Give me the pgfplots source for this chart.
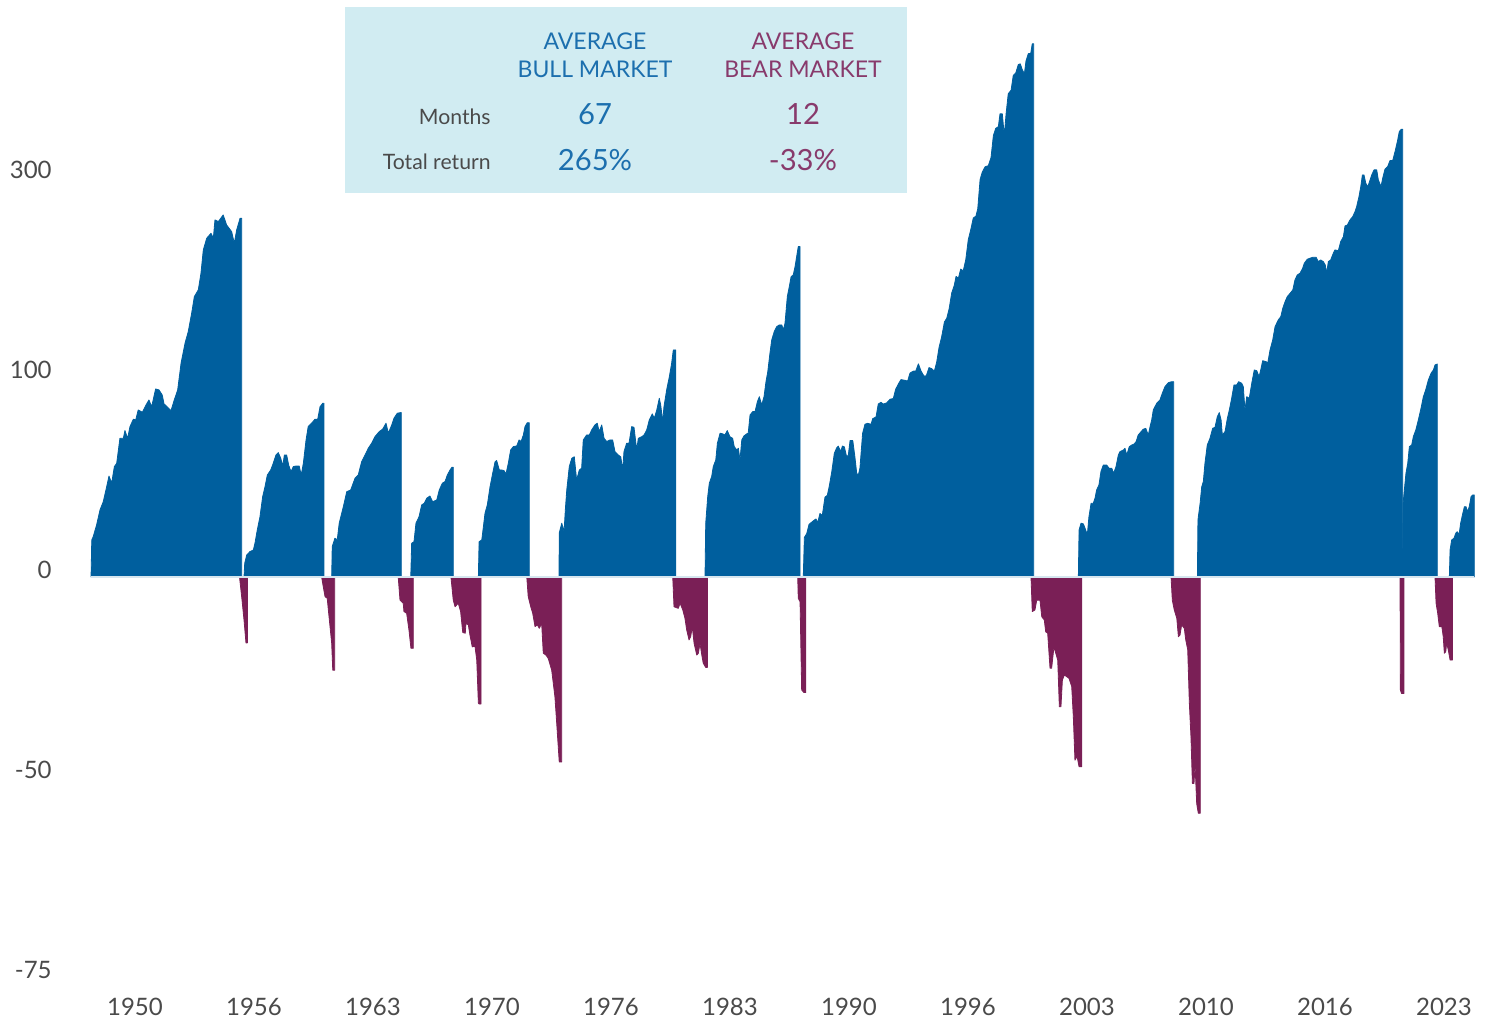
\documentclass[border=0pt]{standalone}
\usepackage{fontspec}
\setmainfont{Lato}
\usepackage{pgfplots}
\pgfplotsset{compat=1.18}
\definecolor{bull}{HTML}{005F9E}
\definecolor{bear}{HTML}{7A1F56}
\definecolor{boxbg}{HTML}{D1ECF2}
\definecolor{bulltxt}{HTML}{1C6FAE}
\definecolor{beartxt}{HTML}{883A6C}
\definecolor{lbl}{HTML}{4A4A4A}
\definecolor{zeroline}{HTML}{D6E6EF}
\begin{document}
\begin{tikzpicture}
\useasboundingbox (-44pt,-16pt) rectangle (700.5pt,495pt);
\begin{axis}[
  scale only axis, width=696pt, height=494pt,
  xmin=1947.38, xmax=2025.01, ymin=-2.065, ymax=2.875,
  y filter/.expression={ln(1+y/100)/ln(2)},
  axis line style={draw=none}, tick style={draw=none}, major tick length=0pt,
  /pgf/number format/assume math mode=true,
  xtick={1950,1956.636,1963.273,1969.909,1976.545,1983.182,1989.818,1996.455,2003.091,2009.727,2016.364,2023},
  xticklabels={1950,1956,1963,1970,1976,1983,1990,1996,2003,2010,2016,2023},
  ytick={-2,-1,0,1,2},
  yticklabels={-75,-50,0,100,300},
  xticklabel style={font=\fontsize{12}{13}\selectfont, text=lbl, anchor=base, inner sep=0pt, yshift=-13pt},
  yticklabel style={font=\fontsize{12}{13}\selectfont, text=lbl, anchor=base east, inner sep=0pt, xshift=-18pt, yshift=-1pt},
  clip=false,
  every axis plot/.append style={line width=0.4pt, line join=round},
]
% ---------- bear markets ----------
\addplot[fill=bear, draw=bear] coordinates {(1955.83,0) (1955.97,-7.7) (1956.08,-13.8) (1956.19,-20.4) (1956.27,-20.4)} \closedcycle;
\addplot[fill=bear, draw=bear] coordinates {(1960.41,0) (1960.50,-3.3) (1960.60,-6.6) (1960.72,-7.1) (1960.84,-13.8) (1960.97,-20.5) (1961.03,-27.6) (1961.14,-27.6)} \closedcycle;
\addplot[fill=bear, draw=bear] coordinates {(1964.68,0) (1964.78,-7.7) (1964.96,-8.7) (1965.00,-11.3) (1965.15,-11.8) (1965.28,-16.8) (1965.39,-21.9) (1965.52,-21.9)} \closedcycle;
\addplot[fill=bear, draw=bear] coordinates {(1967.62,0) (1967.75,-7.7) (1967.85,-9.8) (1968.03,-8.7) (1968.16,-11.3) (1968.28,-17.5) (1968.42,-17.7) (1968.46,-14.8) (1968.59,-15.3) (1968.68,-18.2) (1968.81,-21.5) (1968.96,-21.3) (1969.06,-25.0) (1969.15,-35.4) (1969.20,-35.6) (1969.30,-35.6)} \closedcycle;
\addplot[fill=bear, draw=bear] coordinates {(1971.85,0) (1971.93,-6.6) (1972.07,-9.8) (1972.18,-11.8) (1972.31,-15.8) (1972.44,-15.3) (1972.55,-16.3) (1972.68,-14.8) (1972.77,-23.2) (1972.92,-23.7) (1973.05,-24.6) (1973.24,-27.6) (1973.42,-34.0) (1973.52,-39.8) (1973.66,-47.3) (1973.80,-47.3)} \closedcycle;
\addplot[fill=bear, draw=bear] coordinates {(1979.99,0) (1980.06,-9.8) (1980.30,-10.3) (1980.40,-8.7) (1980.55,-10.8) (1980.67,-13.3) (1980.77,-16.8) (1980.90,-19.6) (1980.99,-18.7) (1981.08,-15.8) (1981.18,-20.5) (1981.33,-23.7) (1981.42,-23.2) (1981.51,-20.5) (1981.61,-23.7) (1981.69,-25.8) (1981.83,-26.9) (1981.92,-26.9)} \closedcycle;
\addplot[fill=bear, draw=bear] coordinates {(1986.96,0) (1986.99,-7.1) (1987.09,-8.2) (1987.18,-32.4) (1987.31,-33.0) (1987.41,-33.0)} \closedcycle;
\addplot[fill=bear, draw=bear] coordinates {(1999.97,0) (2000.04,-11.3) (2000.19,-10.8) (2000.29,-7.7) (2000.47,-7.7) (2000.57,-12.9) (2000.71,-13.8) (2000.79,-17.3) (2000.90,-17.7) (2001.03,-27.1) (2001.12,-27.1) (2001.25,-21.5) (2001.35,-23.2) (2001.46,-25.0) (2001.55,-36.2) (2001.64,-36.2) (2001.72,-30.0) (2001.83,-28.8) (2001.96,-29.2) (2002.09,-29.6) (2002.24,-31.6) (2002.33,-38.4) (2002.42,-47.0) (2002.54,-46.3) (2002.65,-48.2) (2002.80,-48.2)} \closedcycle;
\addplot[fill=bear, draw=bear] coordinates {(2007.78,0) (2007.85,-7.7) (2007.96,-10.8) (2008.10,-13.3) (2008.19,-18.7) (2008.28,-18.2) (2008.37,-15.3) (2008.52,-16.3) (2008.60,-19.6) (2008.71,-22.3) (2008.80,-35.4) (2008.89,-42.5) (2008.97,-51.1) (2009.06,-51.1) (2009.12,-47.9) (2009.21,-54.4) (2009.30,-55.9) (2009.41,-55.9)} \closedcycle;
\addplot[fill=bear, draw=bear] coordinates {(2020.55,0) (2020.57,-32.4) (2020.63,-33.2) (2020.77,-33.2)} \closedcycle;
\addplot[fill=bear, draw=bear] coordinates {(2022.50,0) (2022.56,-8.7) (2022.65,-11.8) (2022.74,-15.8) (2022.88,-15.8) (2022.96,-18.7) (2023.02,-23.2) (2023.10,-22.8) (2023.15,-20.5) (2023.24,-22.3) (2023.34,-25.0) (2023.47,-25.0)} \closedcycle;
% ---------- bull markets ----------
\addplot[fill=bull, draw=bull] coordinates {(1947.55,0) (1947.59,13.7) (1947.67,15.0) (1947.86,19.8) (1948.05,26.2) (1948.23,29.8) (1948.42,36.7) (1948.55,41.9) (1948.70,38.5) (1948.85,46.6) (1948.98,48.3) (1949.16,61.7) (1949.35,61.7) (1949.44,66.1) (1949.59,61.7) (1949.72,68.4) (1949.91,72.8) (1950.04,72.3) (1950.18,78.4) (1950.41,77.0) (1950.65,82.2) (1950.78,84.7) (1950.93,80.4) (1951.15,91.9) (1951.34,91.2) (1951.52,87.9) (1951.62,82.2) (1951.82,80.1) (1952.01,78.0) (1952.19,84.7) (1952.38,91.2) (1952.57,109.8) (1952.79,124.8) (1952.97,134.0) (1953.16,149.4) (1953.31,164.2) (1953.53,170.4) (1953.68,186.5) (1953.81,210.6) (1954.00,223.5) (1954.24,229.1) (1954.37,223.5) (1954.46,244.7) (1954.65,242.7) (1954.92,250.7) (1955.11,238.7) (1955.39,231.0) (1955.54,217.9) (1955.67,232.9) (1955.86,246.7) (1955.95,246.7)} \closedcycle;
\addplot[fill=bull, draw=bull] coordinates {(1956.08,0) (1956.12,4.9) (1956.23,7.9) (1956.41,9.2) (1956.60,9.8) (1956.69,12.4) (1956.82,17.7) (1956.97,23.2) (1957.12,32.1) (1957.25,36.7) (1957.38,42.4) (1957.57,44.9) (1957.71,48.3) (1957.86,52.6) (1957.99,53.9) (1958.13,50.9) (1958.24,46.9) (1958.33,52.6) (1958.46,52.6) (1958.57,47.4) (1958.70,44.1) (1958.83,46.6) (1958.98,46.9) (1959.16,46.9) (1959.27,42.4) (1959.39,48.3) (1959.54,60.8) (1959.66,68.4) (1959.85,70.4) (1960.04,72.8) (1960.19,72.8) (1960.32,80.4) (1960.47,82.6) (1960.54,82.6)} \closedcycle;
\addplot[fill=bull, draw=bull] coordinates {(1960.97,0) (1961.00,11.1) (1961.15,14.4) (1961.28,13.7) (1961.39,20.5) (1961.62,27.6) (1961.81,34.4) (1962.03,35.2) (1962.27,40.8) (1962.45,42.4) (1962.64,49.1) (1962.83,52.6) (1963.01,56.2) (1963.20,59.0) (1963.38,62.6) (1963.62,65.5) (1963.81,66.9) (1964.00,70.4) (1964.13,64.6) (1964.32,69.4) (1964.44,73.3) (1964.63,76.4) (1964.82,76.8) (1964.85,76.8)} \closedcycle;
\addplot[fill=bull, draw=bull] coordinates {(1965.38,0) (1965.43,12.4) (1965.56,13.0) (1965.67,20.5) (1965.84,23.2) (1965.99,28.4) (1966.13,29.1) (1966.27,31.4) (1966.45,32.4) (1966.60,29.8) (1966.83,30.6) (1966.97,35.2) (1967.14,38.4) (1967.29,39.2) (1967.42,42.4) (1967.57,44.9) (1967.68,46.3) (1967.75,46.3)} \closedcycle;
\addplot[fill=bull, draw=bull] coordinates {(1969.15,0) (1969.19,13.0) (1969.34,13.7) (1969.42,18.4) (1969.52,24.7) (1969.65,28.4) (1969.80,36.7) (1969.95,43.3) (1970.08,49.1) (1970.17,49.7) (1970.32,44.9) (1970.45,44.9) (1970.58,44.6) (1970.69,42.9) (1970.82,48.3) (1970.95,55.3) (1971.10,57.1) (1971.29,57.5) (1971.42,60.8) (1971.53,59.9) (1971.66,63.6) (1971.75,68.4) (1971.88,70.7) (1971.99,70.7)} \closedcycle;
\addplot[fill=bull, draw=bull] coordinates {(1973.65,0) (1973.66,16.4) (1973.80,20.5) (1973.93,17.0) (1974.00,26.2) (1974.08,35.2) (1974.22,46.6) (1974.36,50.9) (1974.50,51.7) (1974.63,40.0) (1974.78,44.9) (1974.91,45.8) (1975.00,60.8) (1975.19,63.6) (1975.34,63.6) (1975.47,66.5) (1975.65,69.4) (1975.78,70.4) (1975.89,65.5) (1976.03,69.4) (1976.16,61.7) (1976.31,59.9) (1976.49,60.8) (1976.64,60.8) (1976.77,54.4) (1976.95,52.6) (1977.09,51.7) (1977.20,44.9) (1977.27,54.4) (1977.42,59.0) (1977.55,59.0) (1977.70,68.4) (1977.83,68.0) (1977.98,55.3) (1978.07,61.7) (1978.26,62.6) (1978.39,63.6) (1978.54,66.5) (1978.68,72.3) (1978.85,76.0) (1978.96,73.3) (1979.10,78.4) (1979.24,85.8) (1979.32,81.5) (1979.43,71.3) (1979.50,80.4) (1979.65,91.2) (1979.80,100.2) (1979.93,109.8) (1980.02,119.6) (1980.16,119.6)} \closedcycle;
\addplot[fill=bull, draw=bull] coordinates {(1981.79,0) (1981.83,20.5) (1981.94,32.1) (1982.03,38.4) (1982.16,41.6) (1982.25,46.6) (1982.39,50.0) (1982.48,59.0) (1982.63,64.6) (1982.78,64.2) (1982.90,63.6) (1983.03,66.1) (1983.18,62.6) (1983.33,61.7) (1983.42,57.1) (1983.56,55.3) (1983.65,56.2) (1983.74,50.0) (1983.84,60.8) (1983.96,63.0) (1984.11,64.2) (1984.20,64.6) (1984.30,75.3) (1984.45,77.4) (1984.58,77.4) (1984.71,83.6) (1984.82,86.8) (1984.95,81.5) (1985.08,86.8) (1985.19,96.8) (1985.29,103.7) (1985.41,117.1) (1985.51,127.4) (1985.65,134.0) (1985.79,138.1) (1985.93,139.5) (1986.07,139.5) (1986.16,135.4) (1986.25,140.9) (1986.38,164.2) (1986.49,173.5) (1986.59,183.1) (1986.71,184.8) (1986.81,193.1) (1986.90,203.5) (1986.99,214.2) (1987.09,214.2)} \closedcycle;
\addplot[fill=bull, draw=bull] coordinates {(1987.27,0) (1987.33,14.7) (1987.46,16.2) (1987.59,20.0) (1987.83,21.5) (1987.98,22.3) (1988.07,20.7) (1988.20,24.6) (1988.33,23.8) (1988.48,31.9) (1988.61,32.7) (1988.72,37.0) (1988.86,44.1) (1989.00,53.5) (1989.13,56.4) (1989.22,57.4) (1989.36,54.5) (1989.45,57.4) (1989.56,57.0) (1989.69,51.6) (1989.78,52.5) (1989.88,60.5) (1990.03,60.5) (1990.15,51.6) (1990.25,43.2) (1990.34,42.3) (1990.43,45.9) (1990.58,64.6) (1990.71,69.8) (1990.86,70.3) (1991.05,69.8) (1991.14,73.1) (1991.33,74.2) (1991.45,82.1) (1991.60,83.2) (1991.73,82.1) (1991.92,82.8) (1992.11,85.2) (1992.29,85.6) (1992.42,91.6) (1992.57,95.2) (1992.72,98.2) (1992.94,97.7) (1993.09,97.2) (1993.22,102.7) (1993.41,104.1) (1993.54,104.1) (1993.69,109.3) (1993.84,104.1) (1993.96,101.5) (1994.06,100.2) (1994.15,101.5) (1994.28,106.6) (1994.43,105.9) (1994.58,104.1) (1994.71,110.6) (1994.84,121.5) (1994.99,130.1) (1995.14,142.0) (1995.27,145.1) (1995.40,153.0) (1995.55,167.8) (1995.69,174.7) (1995.79,183.4) (1995.92,181.7) (1996.05,190.7) (1996.19,188.9) (1996.33,200.2) (1996.47,221.7) (1996.62,234.2) (1996.75,247.0) (1996.90,249.3) (1997.00,258.3) (1997.13,296.5) (1997.25,306.6) (1997.41,314.3) (1997.59,315.9) (1997.74,327.7) (1997.87,361.4) (1998.00,373.3) (1998.15,376.2) (1998.24,397.8) (1998.37,397.8) (1998.48,361.4) (1998.58,397.8) (1998.70,433.6) (1998.86,440.5) (1998.98,468.5) (1999.12,473.5) (1999.26,490.4) (1999.37,492.0) (1999.49,479.5) (1999.60,472.1) (1999.69,498.0) (1999.82,513.3) (1999.95,513.3) (2000.04,534.5) (2000.12,534.5)} \closedcycle;
\addplot[fill=bull, draw=bull] coordinates {(2002.61,0) (2002.65,17.7) (2002.76,20.5) (2002.89,20.2) (2003.02,17.7) (2003.11,15.7) (2003.20,23.2) (2003.32,29.1) (2003.44,29.1) (2003.54,31.4) (2003.63,35.2) (2003.76,37.6) (2003.87,44.1) (2004.00,47.4) (2004.19,47.4) (2004.32,45.8) (2004.47,45.8) (2004.58,43.3) (2004.71,46.6) (2004.84,52.6) (2004.93,54.4) (2005.12,55.3) (2005.21,56.2) (2005.31,52.6) (2005.45,57.1) (2005.59,58.0) (2005.73,58.6) (2005.83,59.9) (2005.95,63.6) (2006.11,65.5) (2006.23,66.9) (2006.37,67.4) (2006.51,63.6) (2006.61,68.4) (2006.70,72.3) (2006.79,78.4) (2006.98,82.6) (2007.16,84.7) (2007.29,89.0) (2007.44,93.4) (2007.63,96.1) (2007.82,96.8) (2007.93,96.8)} \closedcycle;
\addplot[fill=bull, draw=bull] coordinates {(2009.25,0) (2009.28,21.9) (2009.40,29.1) (2009.49,36.7) (2009.58,39.2) (2009.67,48.3) (2009.80,58.0) (2009.95,61.7) (2010.10,67.4) (2010.23,68.0) (2010.36,74.3) (2010.47,76.8) (2010.57,72.3) (2010.64,63.6) (2010.79,65.5) (2010.92,73.3) (2011.03,78.4) (2011.16,85.8) (2011.29,94.6) (2011.44,94.6) (2011.55,96.8) (2011.72,95.7) (2011.81,93.4) (2011.90,78.4) (2012.00,86.8) (2012.14,85.8) (2012.28,95.7) (2012.42,104.9) (2012.56,104.4) (2012.69,100.2) (2012.78,104.9) (2012.89,111.6) (2013.08,110.9) (2013.17,109.8) (2013.30,119.6) (2013.45,127.4) (2013.58,138.1) (2013.76,143.7) (2013.90,146.5) (2014.01,153.8) (2014.14,159.7) (2014.26,164.2) (2014.42,167.3) (2014.57,170.4) (2014.69,180.0) (2014.82,184.8) (2014.97,186.5) (2015.12,191.5) (2015.21,196.6) (2015.38,200.8) (2015.53,201.8) (2015.68,202.8) (2015.87,202.8) (2015.99,198.3) (2016.13,200.0) (2016.27,198.3) (2016.38,194.9) (2016.46,186.5) (2016.55,198.3) (2016.68,200.0) (2016.83,207.1) (2016.92,210.6) (2017.11,209.9) (2017.24,219.7) (2017.39,225.2) (2017.48,237.5) (2017.61,238.7) (2017.76,244.7) (2017.91,248.6) (2018.04,254.7) (2018.13,260.9) (2018.26,273.6) (2018.36,286.8) (2018.45,302.8) (2018.54,302.8) (2018.64,291.4) (2018.75,286.8) (2018.88,295.9) (2018.97,302.8) (2019.10,309.9) (2019.25,309.9) (2019.34,295.9) (2019.49,286.8) (2019.58,298.2) (2019.71,310.9) (2019.86,314.6) (2019.99,323.3) (2020.14,323.3) (2020.27,336.7) (2020.40,352.1) (2020.51,368.1) (2020.62,372.0) (2020.70,372.0)} \closedcycle;
\addplot[fill=bull, draw=bull] coordinates {(2020.68,0) (2020.72,29.1) (2020.79,35.2) (2020.88,43.3) (2020.98,48.3) (2021.07,57.1) (2021.20,58.0) (2021.29,62.6) (2021.43,66.5) (2021.57,72.3) (2021.72,79.5) (2021.85,86.8) (2021.98,91.2) (2022.13,98.0) (2022.28,102.6) (2022.41,104.9) (2022.50,108.5) (2022.63,109.2)} \closedcycle;
\addplot[fill=bull, draw=bull] coordinates {(2023.30,0) (2023.34,9.8) (2023.43,13.7) (2023.56,14.4) (2023.66,16.4) (2023.74,17.0) (2023.84,15.7) (2023.93,20.5) (2024.05,24.7) (2024.14,27.6) (2024.23,27.6) (2024.32,25.4) (2024.41,27.6) (2024.51,32.1) (2024.60,32.9) (2024.69,32.9)} \closedcycle;
% zero line
\addplot[zeroline, line width=1pt] coordinates {(1947.55,0) (2024.69,0)};
\end{axis}
% ---------- summary box ----------
\fill[boxbg] (128.5pt,398.5pt) rectangle (409.5pt,491.5pt);
\node[text=bulltxt, align=center, font=\fontsize{11.5}{14}\selectfont] at (253.5pt,467.5pt) {AVERAGE\\BULL MARKET};
\node[text=beartxt, align=center, font=\fontsize{11.5}{14}\selectfont] at (357.5pt,467.5pt) {AVERAGE\\BEAR MARKET};
\node[text=lbl, anchor=east, inner sep=0pt, font=\fontsize{10.6}{12}\selectfont] at (201.5pt,436.5pt) {Months};
\node[text=lbl, anchor=east, inner sep=0pt, font=\fontsize{10.6}{12}\selectfont] at (201.5pt,414pt) {Total return};
\node[text=bulltxt, font=\fontsize{14.6}{16}\selectfont] at (253.5pt,438pt) {67};
\node[text=beartxt, font=\fontsize{14.6}{16}\selectfont] at (357.5pt,438pt) {12};
\node[text=bulltxt, font=\fontsize{14.6}{16}\selectfont] at (253.5pt,415pt) {265\%};
\node[text=beartxt, font=\fontsize{14.6}{16}\selectfont] at (357.5pt,415pt) {-33\%};
\end{tikzpicture}
\end{document}
